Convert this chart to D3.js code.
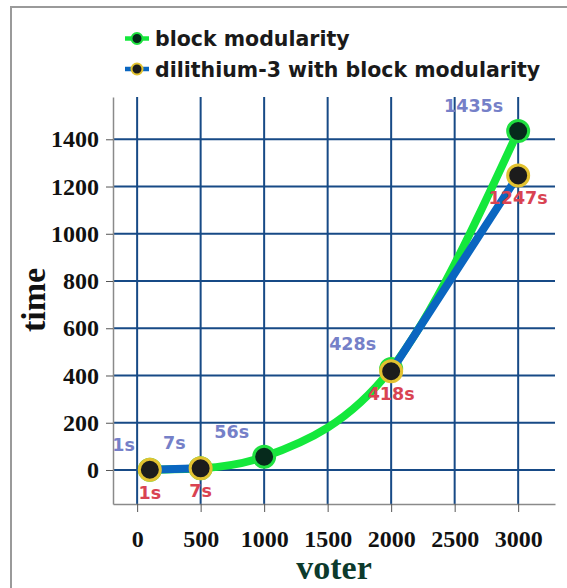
<!DOCTYPE html>
<html>
<head>
<meta charset="utf-8">
<script src="https://cdn.jsdelivr.net/npm/d3@7"></script>
<style>
  body { margin: 0; background: #fff; }
  svg { display: block; }
</style>
</head>
<body>
<div id="chart"></div>
<script>
// data
var voters = [100, 500, 1000, 2000, 3000];
var blockTimes = [1, 7, 56, 428, 1435];
var dilithiumTimes = [1, 7, null, 418, 1247]; // no value at 1000
var xTicks = [0, 500, 1000, 1500, 2000, 2500, 3000];
var yTicks = [0, 200, 400, 600, 800, 1000, 1200, 1400];
var seriesNames = ["block modularity", "dilithium-3 with block modularity"];

var width = 567, height = 588;

var svg = d3.select("#chart")
  .append("svg")
    .attr("width", width)
    .attr("height", height);

// outer frame (only top and left edges show)
svg.append("rect")
  .attr("x", 11).attr("y", 7)
  .attr("width", 600).attr("height", 640)
  .attr("fill", "none")
  .attr("stroke", "#9a9a9a")
  .attr("stroke-width", 2);

var x = d3.scaleLinear().domain([-190, 3290]).range([113, 555]);
var y = d3.scaleLinear().domain([-144, 1579]).range([504, 97]);

// grid
svg.append("g").selectAll("line")
  .data(yTicks).enter().append("line")
    .attr("x1", x.range()[0]).attr("x2", x.range()[1])
    .attr("y1", d => y(d)).attr("y2", d => y(d))
    .attr("stroke", "#174a86").attr("stroke-width", 2);
svg.append("g").selectAll("line")
  .data(xTicks).enter().append("line")
    .attr("x1", d => x(d)).attr("x2", d => x(d))
    .attr("y1", y.range()[0]).attr("y2", y.range()[1])
    .attr("stroke", "#174a86").attr("stroke-width", 2);

// axes
var yAxis = svg.append("g")
  .attr("transform", "translate(113,0)")
  .call(d3.axisLeft(y).tickValues(yTicks).tickFormat(d3.format("d")).tickSize(7).tickPadding(7).tickSizeOuter(0));
var xAxis = svg.append("g")
  .attr("transform", "translate(0,504)")
  .call(d3.axisBottom(x).tickValues(xTicks).tickFormat(d3.format("d")).tickSize(8).tickPadding(18).tickSizeOuter(0));

[xAxis, yAxis].forEach(function(a) {
  a.select(".domain").attr("stroke", "#8a8a8a").attr("stroke-width", 1.5);
  a.selectAll(".tick line").attr("stroke", "#555").attr("stroke-width", 1);
  a.selectAll("text")
    .attr("fill", "#111")
    .style("font-family", "'Liberation Serif', 'Times New Roman', serif")
    .style("font-weight", "bold")
    .style("font-size", "24px");
});

// axis titles
svg.append("text")
  .attr("x", 334).attr("y", 579)
  .attr("text-anchor", "middle")
  .attr("fill", "#0c3a2c")
  .style("font-family", "'Liberation Serif', serif")
  .style("font-weight", "bold")
  .style("font-size", "34px")
  .text("voter");
svg.append("text")
  .attr("transform", "translate(45,300) rotate(-90)")
  .attr("text-anchor", "middle")
  .attr("fill", "#111")
  .style("font-family", "'Liberation Serif', serif")
  .style("font-weight", "bold")
  .style("font-size", "34px")
  .text("time");

var series = [
  { name: seriesNames[0], values: blockTimes, line: "#14e83c", ring: "#1fe040", fill: "#062a1c", label: "#7580c8", below: false },
  { name: seriesNames[1], values: dilithiumTimes, line: "#0a66c0", ring: "#e2c230", fill: "#1c1c1c", label: "#d94352", below: true }
];

var line = d3.line()
  .defined(d => d.v != null)
  .x(d => x(d.x))
  .y(d => y(d.v))
  .curve(d3.curveMonotoneX);

series.forEach(function(s) {
  var pts = voters.map((v, i) => ({ x: v, v: s.values[i] }));
  svg.append("path")
    .datum(pts)
    .attr("d", line)
    .attr("fill", "none")
    .attr("stroke", s.line)
    .attr("stroke-width", 8)
    .attr("stroke-linejoin", "round");

  var valid = pts.filter(d => d.v != null);
  svg.append("g").selectAll("circle")
    .data(valid).enter().append("circle")
      .attr("cx", d => x(d.x))
      .attr("cy", d => y(d.v))
      .attr("r", 10.5)
      .attr("fill", s.fill)
      .attr("stroke", s.ring)
      .attr("stroke-width", 3);

  svg.append("g").selectAll("text")
    .data(valid).enter().append("text")
      .attr("x", d => s.below ? x(d.x) : x(d.x) - 15)
      .attr("y", d => s.below ? y(d.v) + 29 : y(d.v) - 19)
      .attr("text-anchor", s.below ? "middle" : "end")
      .attr("fill", s.label)
      .style("font-family", "'DejaVu Sans', Verdana, sans-serif")
      .style("font-weight", "bold")
      .style("font-size", "17.5px")
      .text(d => d.v + "s");
});

// legend
var legend = svg.append("g").selectAll("g")
  .data(series).enter().append("g")
    .attr("transform", (d, i) => `translate(0,${38.5 + i * 30.5})`);
legend.append("line")
  .attr("x1", 125).attr("x2", 149)
  .attr("stroke", d => d.line)
  .attr("stroke-width", 4.5);
legend.append("circle")
  .attr("cx", 137).attr("r", 5.5)
  .attr("fill", d => d.fill)
  .attr("stroke", d => d.ring)
  .attr("stroke-width", 2);
legend.append("text")
  .attr("x", 155).attr("y", 7.5)
  .attr("fill", "#1a1a1a")
  .style("font-family", "'DejaVu Sans', Verdana, sans-serif")
  .style("font-weight", "bold")
  .style("font-size", "20.5px")
  .text(d => d.name);
</script>
</body>
</html>
